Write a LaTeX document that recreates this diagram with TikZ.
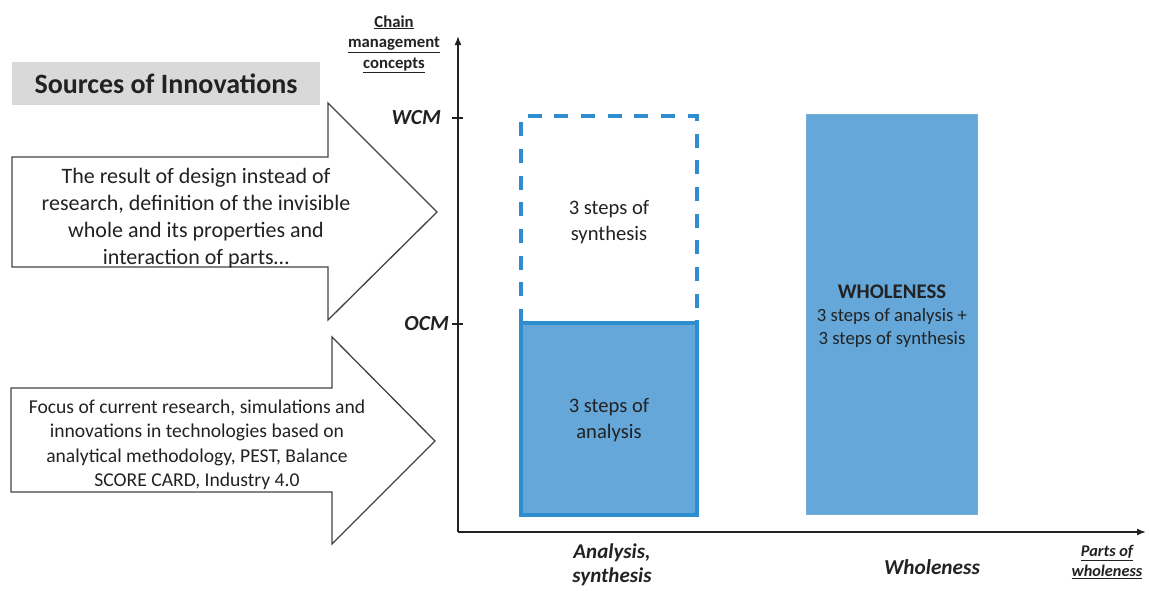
\documentclass[tikz,border=0pt]{standalone}
\usepackage{fontspec}
\setmainfont{Carlito}
\usetikzlibrary{arrows.meta}
\definecolor{ink}{HTML}{222222}
\definecolor{barfill}{HTML}{65A7D9}
\definecolor{baredge}{HTML}{2E8DCF}
\definecolor{titlegray}{HTML}{D9D9D9}
\begin{document}
\begin{tikzpicture}[x=1pt,y=-1pt,
  txt/.style={text=ink,inner sep=0pt,align=center},
  bigarrow/.style={draw=ink!85,line width=1.3pt,fill=white,line join=miter},
  axis/.style={draw=ink,line width=1.6pt,-{Latex[length=9pt,width=7pt]}},
  tick/.style={draw=ink,line width=1.4pt},
  solidbar/.style={fill=barfill,draw=baredge,line width=3.5pt},
  dashbar/.style={draw=baredge,line width=3.4pt,dash pattern=on 14pt off 12.7pt},
  wholebar/.style={fill=barfill,draw=barfill!90!white,line width=1pt}]
\useasboundingbox (0,0) rectangle (1149,590);

% title banner
\fill[titlegray] (12,62) rectangle (320,105);
\node[txt,font=\fontsize{28}{32}\selectfont\bfseries] (title) at (166,84) {Sources of Innovations};

% upper block arrow
\draw[bigarrow] (12,157) -- (328,157) -- (328,103) -- (437,212) -- (328,320) -- (328,267) -- (12,267) -- cycle;
\node[txt,font=\fontsize{22}{27}\selectfont] (design) at (196,218)
  {The result of design instead of\\research, definition of the invisible\\whole and its properties and\\interaction of parts\dots};

% lower block arrow
\draw[bigarrow] (11,388) -- (332,388) -- (332,337) -- (435,441) -- (332,544) -- (332,492) -- (11,492) -- cycle;
\node[txt,font=\fontsize{19.6}{24.5}\selectfont] (focus) at (197,445)
  {Focus of current research, simulations and\\innovations in technologies based on\\analytical methodology, PEST, Balance\\SCORE CARD, Industry 4.0};

% axes
\coordinate (o) at (458,532);
\coordinate (ytop) at (458,36);
\coordinate (xend) at (1146,532);
\draw[axis] (o) -- (ytop);
\draw[axis] (o) -- (xend);
\coordinate (wcm) at (458,118);
\coordinate (ocm) at (458,324);
\draw[tick] ([xshift=-6pt]wcm) -- ([xshift=5pt]wcm);
\draw[tick] ([xshift=-6pt]ocm) -- ([xshift=5pt]ocm);
\node[txt,anchor=east,font=\fontsize{21.5}{24}\selectfont\bfseries\itshape] (wcmlab) at (441,118) {WCM};
\node[txt,anchor=east,font=\fontsize{21.5}{24}\selectfont\bfseries\itshape] (ocmlab) at (449,324) {OCM};
\node[txt,font=\fontsize{16.7}{20.5}\selectfont\bfseries] (ylab) at (394,44)
  {\underline{Chain}\\\underline{management}\\\underline{concepts}};

% bars
\draw[solidbar] (521,323) rectangle (697,515);
\draw[dashbar] (521,323) -- (521,116) -- (697,116) -- (697,323);
\draw[wholebar] (806,114) rectangle (977,514);

\node[txt,font=\fontsize{20.6}{26.5}\selectfont] (synth) at (609,222) {3 steps of\\synthesis};
\node[txt,font=\fontsize{20.6}{26.5}\selectfont] (anal) at (609,420) {3 steps of\\analysis};
\node[txt,font=\fontsize{20.8}{24}\selectfont\bfseries] (whole) at (892,292) {WHOLENESS};
\node[txt,font=\fontsize{18.7}{23.5}\selectfont] (wholetxt) at (892,328)
  {3 steps of analysis +\\3 steps of synthesis};

% category labels
\node[txt,font=\fontsize{21}{24}\selectfont\bfseries\itshape] (xa) at (612,565) {Analysis,\\synthesis};
\node[txt,font=\fontsize{21.3}{24}\selectfont\bfseries\itshape] (xw) at (932,567) {Wholeness};
\node[txt,font=\fontsize{16.3}{19.5}\selectfont\bfseries\itshape] (xlab) at (1107,562)
  {\underline{Parts of}\\\underline{wholeness}};
\end{tikzpicture}
\end{document}
